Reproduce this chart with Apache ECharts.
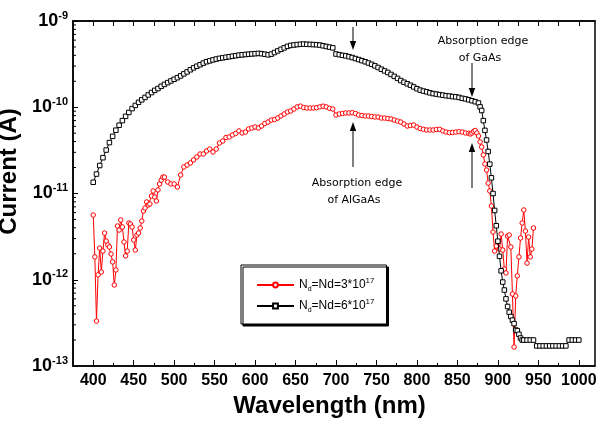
<!DOCTYPE html>
<html><head><meta charset="utf-8">
<script src="https://cdn.jsdelivr.net/npm/echarts@6/dist/echarts.min.js"></script>
<style>html,body{margin:0;padding:0;background:#fff}#c{width:599px;height:421px}</style>
</head><body><div id="c"></div>
<script>
// ---- data ----
const redWl = [400,402,404,406,408,410,412,414,416,418,420,422,424,426,428,430,432,434,436,438,440,442,444,446,448,450,452,454,456,458,460,462,464,466,468,470,472,474,476,478,480,482,484,486,488,
492,496,500,504,508,512,516,520,524,528,532,536,540,544,548,552,556,560,564,568,572,576,580,584,588,592,596,600,604,608,612,616,620,624,628,632,636,640,644,648,652,656,660,664,668,672,676,680,684,688,692,696,
700,704,708,712,716,720,724,728,732,736,740,744,748,752,756,760,764,768,772,776,780,784,788,792,796,800,804,808,812,816,820,824,828,832,836,840,844,848,852,856,860,864,
866,868,870,872,874,876,878,880,882,884,886,888,890,892,894,896,898,900,902,904,906,908,910,912,914,916,918,920,922,924,926,928,930,932,934,936,938,940,942,944];
const redI = [5.63e-12,1.84e-12,3.32e-13,1.14e-12,2.33e-12,1.23e-12,2.15e-12,3.48e-12,2.81e-12,2.53e-12,2.40e-12,1.99e-12,1.61e-12,8.69e-13,1.30e-12,4.20e-12,3.77e-12,4.93e-12,4.09e-12,2.74e-12,1.89e-12,2.15e-12,4.55e-12,4.43e-12,4.09e-12,2.89e-12,2.21e-12,3.30e-12,3.48e-12,3.98e-12,4.80e-12,6.27e-12,6.79e-12,7.97e-12,7.36e-12,7.56e-12,9.35e-12,1.07e-11,9.11e-12,8.19e-12,1.10e-11,1.29e-11,1.43e-11,1.55e-11,1.55e-11,
1.36e-11,1.29e-11,1.29e-11,1.19e-11,1.64e-11,2.03e-11,2.14e-11,2.26e-11,2.45e-11,2.65e-11,2.87e-11,2.87e-11,3.11e-11,3.28e-11,3.03e-11,3.28e-11,3.85e-11,4.06e-11,4.46e-11,4.52e-11,4.77e-11,4.96e-11,5.31e-11,5.03e-11,5.16e-11,5.60e-11,5.75e-11,5.90e-11,5.75e-11,6.06e-11,6.48e-11,6.74e-11,7.11e-11,7.21e-11,7.50e-11,7.92e-11,8.36e-11,8.81e-11,9.05e-11,9.54e-11,1.01e-10,1.03e-10,9.93e-11,9.80e-11,9.80e-11,9.80e-11,9.88e-11,1.01e-10,1.03e-10,1.01e-10,9.72e-11,9.54e-11,
8.13e-11,8.36e-11,8.47e-11,8.58e-11,8.58e-11,8.65e-11,8.47e-11,8.13e-11,8.02e-11,7.92e-11,7.92e-11,7.81e-11,7.71e-11,7.71e-11,7.50e-11,7.50e-11,7.40e-11,7.31e-11,7.11e-11,6.92e-11,6.74e-11,6.39e-11,6.06e-11,6.14e-11,6.22e-11,5.90e-11,5.67e-11,5.55e-11,5.45e-11,5.45e-11,5.45e-11,5.52e-11,5.55e-11,5.31e-11,5.16e-11,5.07e-11,5.10e-11,5.16e-11,5.20e-11,5.16e-11,5.03e-11,4.99e-11,
4.90e-11,5.03e-11,5.24e-11,5.38e-11,5.03e-11,4.64e-11,3.96e-11,3.46e-11,2.80e-11,2.20e-11,1.87e-11,1.32e-11,1.07e-11,7.16e-12,3.58e-12,2.15e-12,2.46e-12,2.74e-12,2.27e-12,3.39e-12,2.21e-12,1.33e-12,1.20e-12,3.21e-12,3.30e-12,2.40e-12,6.84e-13,1.66e-13,6.48e-13,1.11e-12,1.84e-12,3.05e-12,4.55e-12,6.44e-12,3.67e-12,1.56e-12,3.13e-12,1.84e-12,2.27e-12,3.98e-12];

const blackWl = [400,404,408,412,416,420,424,428,432,436,440,444,448,452,456,460,464,468,472,476,480,484,488,492,496,500,504,508,512,516,520,524,528,532,536,540,544,548,552,556,560,564,568,572,576,580,584,588,592,596,600,604,608,612,616,620,624,628,632,636,640,644,648,652,656,660,664,668,672,676,680,684,688,692,696,
700,704,708,712,716,720,724,728,732,736,740,744,748,752,756,760,764,768,772,776,780,784,788,792,796,800,804,808,812,816,820,824,828,832,836,840,844,848,852,856,860,864,868,872,876,
878,880,882,884,886,888,890,892,894,896,898,900,902,904,906,908,910,912,914,916,918,920,922,924,926,928,930,
932,936,940,944,948,952,956,960,964,968,972,976,980,984,988,992,996,1000];
const blackI = [1.35e-11,1.68e-11,2.11e-11,2.60e-11,3.19e-11,3.89e-11,4.60e-11,5.42e-11,6.19e-11,7.00e-11,7.85e-11,8.71e-11,9.65e-11,1.05e-10,1.14e-10,1.22e-10,1.30e-10,1.39e-10,1.48e-10,1.57e-10,1.65e-10,1.75e-10,1.84e-10,1.93e-10,2.02e-10,2.11e-10,2.20e-10,2.31e-10,2.44e-10,2.57e-10,2.72e-10,2.86e-10,2.99e-10,3.11e-10,3.25e-10,3.37e-10,3.45e-10,3.54e-10,3.62e-10,3.69e-10,3.74e-10,3.80e-10,3.85e-10,3.91e-10,3.96e-10,4.02e-10,4.05e-10,4.09e-10,4.12e-10,4.15e-10,4.18e-10,4.21e-10,4.18e-10,4.12e-10,4.05e-10,4.13e-10,4.31e-10,4.50e-10,4.70e-10,4.88e-10,5.08e-10,5.21e-10,5.27e-10,5.33e-10,5.37e-10,5.40e-10,5.37e-10,5.35e-10,5.33e-10,5.30e-10,5.26e-10,5.16e-10,5.07e-10,4.98e-10,4.88e-10,
4.14e-10,4.07e-10,4.00e-10,3.94e-10,3.86e-10,3.77e-10,3.67e-10,3.57e-10,3.47e-10,3.37e-10,3.26e-10,3.15e-10,3.02e-10,2.89e-10,2.76e-10,2.64e-10,2.53e-10,2.40e-10,2.28e-10,2.16e-10,2.04e-10,1.95e-10,1.87e-10,1.80e-10,1.72e-10,1.64e-10,1.58e-10,1.54e-10,1.51e-10,1.47e-10,1.44e-10,1.42e-10,1.40e-10,1.38e-10,1.36e-10,1.35e-10,1.33e-10,1.32e-10,1.30e-10,1.27e-10,1.25e-10,1.22e-10,1.19e-10,1.16e-10,1.12e-10,
1.01e-10,9.17e-11,7.0e-11,5.39e-11,4.17e-11,3.07e-11,2.19e-11,1.52e-11,1.0e-11,6.36e-12,4.23e-12,2.8e-12,1.87e-12,1.27e-12,9.4e-13,7.6e-13,6.0e-13,4.9e-13,4.2e-13,3.75e-13,3.4e-13,3.1e-13,2.61e-13,2.57e-13,2.33e-13,2.11e-13,2.0e-13,
2.0e-13,2.0e-13,2.0e-13,2.0e-13,1.71e-13,1.71e-13,1.71e-13,1.71e-13,1.71e-13,1.71e-13,1.71e-13,1.71e-13,1.71e-13,1.71e-13,2.0e-13,2.0e-13,2.0e-13,2.0e-13];

const seriesNames = ['Nd3', 'Nd6'];
const legendParts = { Nd3: ['N', 'd', '=Nd=3*10', '17'], Nd6: ['N', 'd', '=Nd=6*10', '17'] };
const xLabelTicks = [400,450,500,550,600,650,700,750,800,850,900,950,1000];
const xMinorTicks = [425,475,525,575,625,675,725,775,825,875,925,975];
const xTopTicks = [400,425,450,475,500,525,550,575,600,625,650,675,700,725,750,775,800,825,850,875,900,925,950,975,1000];
const yDecades = [-13,-12,-11,-10,-9];
const xRange = [375, 1020];

const FF = '"Liberation Sans", Arial, sans-serif';
const AF = '"DejaVu Sans", sans-serif';

const zip = (a, b) => a.map((v, i) => [v, b[i]]);
const yMinor = [];
for (let k = 0; k < yDecades.length - 1; k++) for (let m = 2; m <= 9; m++) yMinor.push([xRange[0], m * Math.pow(10, yDecades[k])]);

const chart = echarts.init(document.getElementById('c'), null, { renderer: 'canvas' });

function arrow(x, tail, tip) {
  const dir = tip > tail ? 1 : -1;
  const hl = 9, hw = 3.2;
  return {
    type: 'group', silent: true, children: [
      { type: 'line', shape: { x1: x, y1: tail, x2: x, y2: tip - dir * hl }, style: { stroke: '#000', lineWidth: 1 } },
      { type: 'polygon', shape: { points: [[x, tip], [x - hw, tip - dir * hl], [x + hw, tip - dir * hl]] }, style: { fill: '#000' } }
    ]
  };
}
function label(x, y, t) {
  return { type: 'text', silent: true, x: x, y: y, style: { text: t, font: '11px ' + AF, fill: '#000', align: 'center', verticalAlign: 'middle' } };
}

chart.setOption({
  animation: false,
  backgroundColor: '#fff',
  grid: { left: 73, right: 4, top: 21, bottom: 55, containLabel: false, outerBoundsMode: 'none', show: true, borderColor: '#000', borderWidth: 1.5, backgroundColor: 'transparent' },
  legend: {
    data: seriesNames, left: 241, top: 265, orient: 'vertical',
    itemWidth: 37, itemHeight: 6, itemGap: 5,
    padding: [12, 12, 10, 15],
    borderColor: '#000', borderWidth: 1, backgroundColor: '#fff',
    shadowColor: '#000', shadowOffsetX: 2, shadowOffsetY: 2, shadowBlur: 0,
    selectedMode: false,
    formatter: n => { const p = legendParts[n]; return '{n|' + p[0] + '}{sub|' + p[1] + '}{n|' + p[2] + '}{sup|' + p[3] + '}'; },
    textStyle: {
      fontFamily: FF, fontSize: 12, color: '#000',
      rich: {
        n: { fontFamily: FF, fontSize: 12, lineHeight: 16, verticalAlign: 'middle', color: '#000' },
        sub: { fontFamily: FF, fontSize: 7, lineHeight: 16, verticalAlign: 'bottom', color: '#000' },
        sup: { fontFamily: FF, fontSize: 8, lineHeight: 16, verticalAlign: 'top', color: '#000' }
      }
    }
  },
  xAxis: [
    {
      type: 'value', min: xRange[0], max: xRange[1], position: 'bottom',
      name: 'Wavelength (nm)', nameLocation: 'middle', nameGap: 19,
      nameTextStyle: { fontFamily: FF, fontSize: 24, fontWeight: 'bold', color: '#000', padding: [0, 9, 0, 0] },
      axisLine: { show: true, onZero: false, lineStyle: { color: '#000', width: 1.5 } },
      axisTick: { show: true, inside: true, length: 6, customValues: xLabelTicks, lineStyle: { color: '#000', width: 1 } },
      axisLabel: { show: true, customValues: xLabelTicks, margin: 7, formatter: v => String(v), fontFamily: FF, fontSize: 16, fontWeight: 'bold', color: '#000' },
      splitLine: { show: false }
    },
    {
      type: 'value', min: xRange[0], max: xRange[1], position: 'bottom',
      axisLine: { show: false },
      axisTick: { show: true, inside: true, length: 3, customValues: xMinorTicks, lineStyle: { color: '#000', width: 1 } },
      axisLabel: { show: false }, splitLine: { show: false }
    },
    {
      type: 'value', min: xRange[0], max: xRange[1], position: 'top',
      axisLine: { show: true, onZero: false, lineStyle: { color: '#000', width: 1.5 } },
      axisTick: { show: true, inside: true, length: 5, customValues: xTopTicks, lineStyle: { color: '#000', width: 1 } },
      axisLabel: { show: false }, splitLine: { show: false }
    }
  ],
  yAxis: [
    {
      type: 'log', logBase: 10, min: Math.pow(10, yDecades[0]), max: Math.pow(10, yDecades[yDecades.length - 1]),
      name: 'Current (A)', nameLocation: 'middle', nameGap: 39,
      nameTextStyle: { fontFamily: FF, fontSize: 24, fontWeight: 'bold', color: '#000', padding: [0, 0, 0, 44] },
      axisLine: { show: true, onZero: false, lineStyle: { color: '#000', width: 1.5 } },
      axisTick: { show: true, inside: true, length: 5, lineStyle: { color: '#000', width: 1 } },
      axisLabel: {
        show: true, margin: 5,
        formatter: v => '{b|10}{s|' + Math.round(Math.log10(v)) + '}',
        rich: {
          b: { fontFamily: FF, fontSize: 18, fontWeight: 'bold', color: '#000', lineHeight: 22, verticalAlign: 'middle' },
          s: { fontFamily: FF, fontSize: 11, fontWeight: 'bold', color: '#000', lineHeight: 22, verticalAlign: 'top' }
        }
      },
      splitLine: { show: false }
    }
  ],
  series: [
    {
      name: seriesNames[0], type: 'line', data: zip(redWl, redI),
      symbol: 'circle', symbolSize: 4.5, showAllSymbol: true,
      itemStyle: { color: '#fff', borderColor: '#ff0000', borderWidth: 1 },
      lineStyle: { color: '#ff0000', width: 1 },
      emphasis: { disabled: true }, z: 3
    },
    {
      name: seriesNames[1], type: 'line', data: zip(blackWl, blackI),
      symbol: 'rect', symbolSize: 4.5, showAllSymbol: true,
      itemStyle: { color: '#fff', borderColor: '#000', borderWidth: 1 },
      lineStyle: { color: '#000', width: 1 },
      emphasis: { disabled: true }, z: 4
    },
    {
      name: 'yminor', type: 'custom', data: yMinor, silent: true, clip: false,
      renderItem: (params, api) => {
        const p = api.coord([api.value(0), api.value(1)]);
        return { type: 'line', shape: { x1: p[0], y1: p[1], x2: p[0] + 3, y2: p[1] }, style: { stroke: '#000', lineWidth: 1 } };
      }
    }
  ],
  graphic: [
    arrow(353, 27, 50),
    arrow(353, 167, 122),
    arrow(472, 63, 97),
    arrow(472, 188, 143),
    label(483, 41, 'Absorption edge'),
    label(480, 58, 'of GaAs'),
    label(357, 183, 'Absorption edge'),
    label(354, 200, 'of AlGaAs')
  ]
});
</script>
</body></html>
